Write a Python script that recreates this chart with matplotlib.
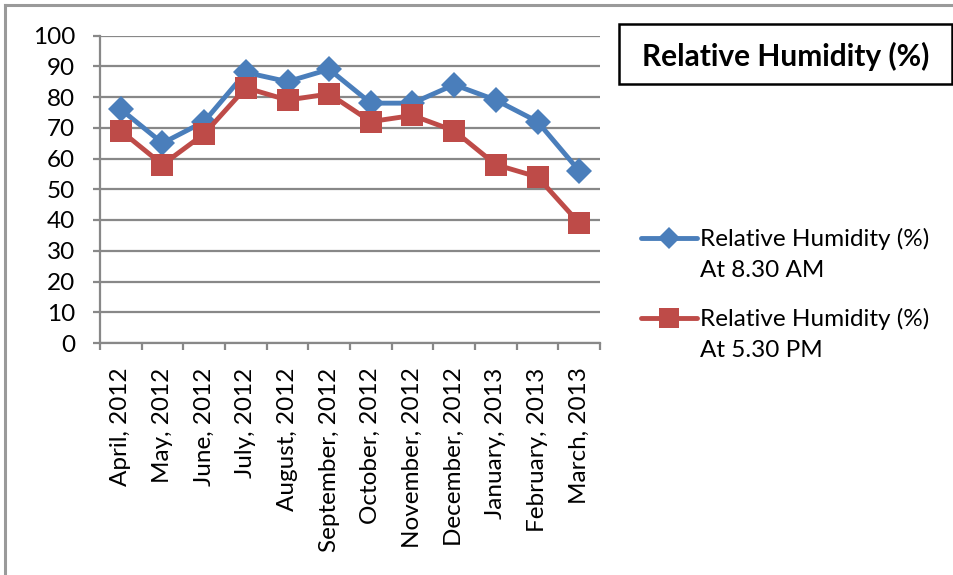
import matplotlib
matplotlib.use("Agg")
import matplotlib.pyplot as plt
from matplotlib.lines import Line2D
from matplotlib.patches import Rectangle

months = ["April, 2012", "May, 2012", "June, 2012", "July, 2012", "August, 2012",
          "September, 2012", "October, 2012", "November, 2012", "December, 2012",
          "January, 2013", "February, 2013", "March, 2013"]
rh_morning = [76, 65, 72, 88, 85, 89, 78, 78, 84, 79, 72, 56]
rh_evening = [69, 58, 68, 83, 79, 81, 72, 74, 69, 58, 54, 39]
y_ticks = [0, 10, 20, 30, 40, 50, 60, 70, 80, 90, 100]

label_morning = "Relative Humidity (%)\nAt 8.30 AM"
label_evening = "Relative Humidity (%)\nAt 5.30 PM"
title = "Relative Humidity (%)"

BLUE = "#4A7EBB"
RED = "#BE4B48"
GRID = "#888888"
FONT = "Lato"
FS = 17.5

W, H = 954, 575
fig = plt.figure(figsize=(W / 100, H / 100), dpi=100)
plt.rcParams["font.family"] = [FONT, "DejaVu Sans"]


def fx(px):
    return px / W


def fy(py):
    return 1 - py / H


# chart area border (left and top edges visible)
fig.add_artist(Line2D([fx(5), fx(5)], [0, fy(5)], transform=fig.transFigure,
                      color="#9a9a9a", lw=2.2))
fig.add_artist(Line2D([fx(5), 1], [fy(5), fy(5)], transform=fig.transFigure,
                      color="#9a9a9a", lw=2.2))

x0, x1, yt, yb = 100, 600, 35.5, 343
ax = fig.add_axes([fx(x0), fy(yb), (x1 - x0) / W, (yb - yt) / H])

n = len(months)
xs = list(range(n))
ax.plot(xs, rh_morning, color=BLUE, lw=3.5, marker="D", markersize=13.5,
        markeredgewidth=0, zorder=3)
ax.plot(xs, rh_evening, color=RED, lw=3.5, marker="s", markersize=16,
        markeredgewidth=0, zorder=4)

ax.set_xlim(-0.5, n - 0.5)
ax.set_ylim(0, 100)
ax.set_yticks(y_ticks)
ax.set_yticklabels([str(v) for v in y_ticks], fontsize=FS, family=FONT)
for v in y_ticks:
    ax.axhline(v, color=GRID, lw=1.6, zorder=1)

# category ticks sit between categories
ax.set_xticks([i - 0.5 for i in range(n + 1)])
ax.set_xticklabels([])
ax.tick_params(axis="x", direction="out", length=5, width=1.6, color=GRID)
ax.tick_params(axis="y", direction="out", length=5, width=1.6, color=GRID, pad=13)
for i, m in enumerate(months):
    ax.text(i, -8.0, m, rotation=90, ha="center", va="top", fontsize=FS,
            family=FONT, transform=ax.transData)

for s in ["top", "right"]:
    ax.spines[s].set_visible(False)
for s in ["left", "bottom"]:
    ax.spines[s].set_color(GRID)
    ax.spines[s].set_linewidth(1.6)

# title box
fig.add_artist(Rectangle((fx(619), fy(84)), (952 - 619) / W, (84 - 24) / H,
                         transform=fig.transFigure, fill=False, ec="black", lw=1.8))
fig.text(fx((619 + 952) / 2), fy(56), title, ha="center", va="center",
         fontsize=21.5, fontweight="bold", family=FONT)

# legend entries
entries = [(label_morning, BLUE, "D", 11.5, 238),
           (label_evening, RED, "s", 14, 318)]
for label, color, mk, ms, ypx in entries:
    fig.add_artist(Line2D([fx(641), fx(697)], [fy(ypx), fy(ypx)],
                          transform=fig.transFigure, color=color, lw=3.5,
                          solid_capstyle="round"))
    fig.add_artist(Line2D([fx(669)], [fy(ypx)], transform=fig.transFigure,
                          color=color, marker=mk, markersize=ms, markeredgewidth=0))
    fig.text(fx(700), fy(ypx - 10), label, ha="left", va="top", fontsize=FS,
             family=FONT, linespacing=1.6)

fig.savefig("out.png", dpi=100, facecolor="white")
